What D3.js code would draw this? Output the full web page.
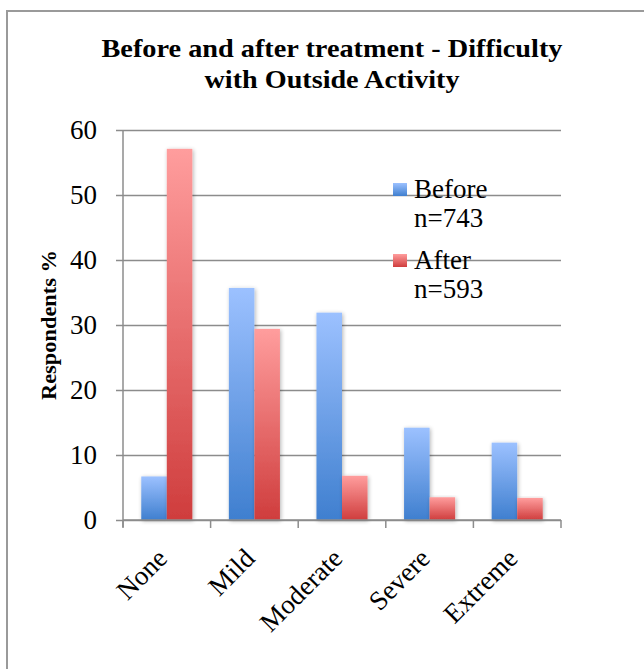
<!DOCTYPE html>
<html>
<head>
<meta charset="utf-8">
<script src="https://cdn.jsdelivr.net/npm/d3@7/dist/d3.min.js"></script>
<style>
  html, body { margin: 0; padding: 0; background: #fff; }
  svg { display: block; }
  text { font-family: "Liberation Serif", "DejaVu Serif", serif; fill: #000; }
</style>
</head>
<body>
<svg id="chart" width="644" height="669"></svg>
<script>
// Severity categories and the share of respondents in each (percent)
const categories = ["None", "Mild", "Moderate", "Severe", "Extreme"];
const beforeValues = [6.7, 35.7, 31.9, 14.2, 11.9];
const afterValues = [57.1, 29.4, 6.8, 3.5, 3.4];
const seriesNames = ["Before\nn=743", "After\nn=593"];
const yTicks = [0, 10, 20, 30, 40, 50, 60];
const titleLines = ["Before and after treatment - Difficulty", "with Outside Activity"];
const yLabel = "Respondents %";

const svg = d3.select("#chart");
const W = 644, H = 669;
const plot = { left: 123, right: 561, top: 130, bottom: 520 };

// Outer frame (only left and top edges fall inside the page)
svg.append("rect")
  .attr("x", 7).attr("y", 11)
  .attr("width", W + 20).attr("height", H + 20)
  .attr("fill", "#fff").attr("stroke", "#9a9a9a").attr("stroke-width", 2);

const defs = svg.append("defs");
function grad(id, top, bottom) {
  const g = defs.append("linearGradient").attr("id", id)
    .attr("x1", 0).attr("y1", 0).attr("x2", 0).attr("y2", 1);
  g.append("stop").attr("offset", "0%").attr("stop-color", top);
  g.append("stop").attr("offset", "100%").attr("stop-color", bottom);
}
grad("gBefore", "#9cc1ff", "#3f7fcf");
grad("gAfter", "#ff9d9d", "#cf3d3d");
const shadow = defs.append("filter").attr("id", "shadow")
  .attr("x", "-30%").attr("y", "-10%").attr("width", "160%").attr("height", "130%");
shadow.append("feGaussianBlur").attr("in", "SourceAlpha").attr("stdDeviation", 2).attr("result", "b");
shadow.append("feOffset").attr("in", "b").attr("dx", 1).attr("dy", 1).attr("result", "o");
shadow.append("feComponentTransfer").attr("in", "o").attr("result", "s")
  .append("feFuncA").attr("type", "linear").attr("slope", 0.3);
const merge = shadow.append("feMerge");
merge.append("feMergeNode").attr("in", "s");
merge.append("feMergeNode").attr("in", "SourceGraphic");

const y = d3.scaleLinear().domain([0, 60]).range([plot.bottom, plot.top]);
const x = d3.scaleBand().domain(categories).range([plot.left, plot.right]).paddingInner(0).paddingOuter(0);
const xs = d3.scaleBand().domain([0, 1]).range([0, x.bandwidth()]).paddingInner(0).paddingOuter(0.715);

// Title
svg.append("text")
  .attr("text-anchor", "middle")
  .attr("font-weight", "bold").attr("font-size", 26)
  .selectAll("tspan").data(titleLines).join("tspan")
  .attr("x", 332).attr("y", (d, i) => 57 + i * 31)
  .attr("textLength", (d, i) => i === 0 ? 461 : 255)
  .attr("lengthAdjust", "spacingAndGlyphs")
  .text(d => d);

// Gridlines and y axis
const yAxis = d3.axisLeft(y).tickValues(yTicks).tickSize(-(plot.right - plot.left)).tickPadding(26);
const gy = svg.append("g").attr("transform", `translate(${plot.left},0)`).call(yAxis);
gy.select(".domain").remove();
gy.selectAll(".tick line").attr("stroke", "#8c8c8c").attr("stroke-width", 1.5).attr("x1", -7);
gy.selectAll(".tick text").attr("font-size", 27).attr("font-family", "Liberation Serif, serif").attr("fill", "#000");

svg.append("line")
  .attr("x1", plot.left).attr("x2", plot.left)
  .attr("y1", plot.top).attr("y2", plot.bottom + 7)
  .attr("stroke", "#8c8c8c").attr("stroke-width", 1.5);

// Bars
const data = categories.map((c, i) => ({ c, v: [beforeValues[i], afterValues[i]] }));
const groups = svg.append("g").selectAll("g").data(data).join("g")
  .attr("transform", d => `translate(${x(d.c)},0)`);
groups.selectAll("rect").data(d => d.v).join("rect")
  .attr("x", (d, i) => xs(i))
  .attr("width", xs.bandwidth())
  .attr("y", d => y(d))
  .attr("height", d => y(0) - y(d))
  .attr("fill", (d, i) => i === 0 ? "url(#gBefore)" : "url(#gAfter)")
  .attr("filter", "url(#shadow)");

// X axis baseline and ticks
const bounds = categories.map(c => x(c)).concat([plot.right]);
svg.append("line")
  .attr("x1", plot.left).attr("x2", plot.right)
  .attr("y1", plot.bottom).attr("y2", plot.bottom)
  .attr("stroke", "#8c8c8c").attr("stroke-width", 1.5);
svg.append("g").selectAll("line").data(bounds).join("line")
  .attr("x1", d => d).attr("x2", d => d)
  .attr("y1", plot.bottom).attr("y2", plot.bottom + 8)
  .attr("stroke", "#8c8c8c").attr("stroke-width", 1.5);

// Rotated category labels
svg.append("g").selectAll("text").data(categories).join("text")
  .attr("text-anchor", "end")
  .attr("font-size", 27)
  .attr("transform", c => `translate(${x(c) + x.bandwidth() / 2 + 2},${plot.bottom + 40}) rotate(-45)`)
  .text(c => c);

// Y axis title
svg.append("text")
  .attr("text-anchor", "middle")
  .attr("font-weight", "bold").attr("font-size", 20)
  .attr("textLength", 150).attr("lengthAdjust", "spacingAndGlyphs")
  .attr("transform", `translate(56,325) rotate(-90)`)
  .text(yLabel);

// Legend
const legend = svg.append("g").selectAll("g").data(seriesNames).join("g")
  .attr("transform", (d, i) => `translate(393,${183 + i * 71})`);
legend.append("rect")
  .attr("width", 14).attr("height", 13)
  .attr("fill", (d, i) => i === 0 ? "url(#gBefore)" : "url(#gAfter)");
legend.append("text")
  .attr("font-size", 27)
  .selectAll("tspan").data(d => d.split("\n")).join("tspan")
  .attr("x", 21).attr("y", (d, i) => 15 + i * 29)
  .text(d => d);
</script>
</body>
</html>
